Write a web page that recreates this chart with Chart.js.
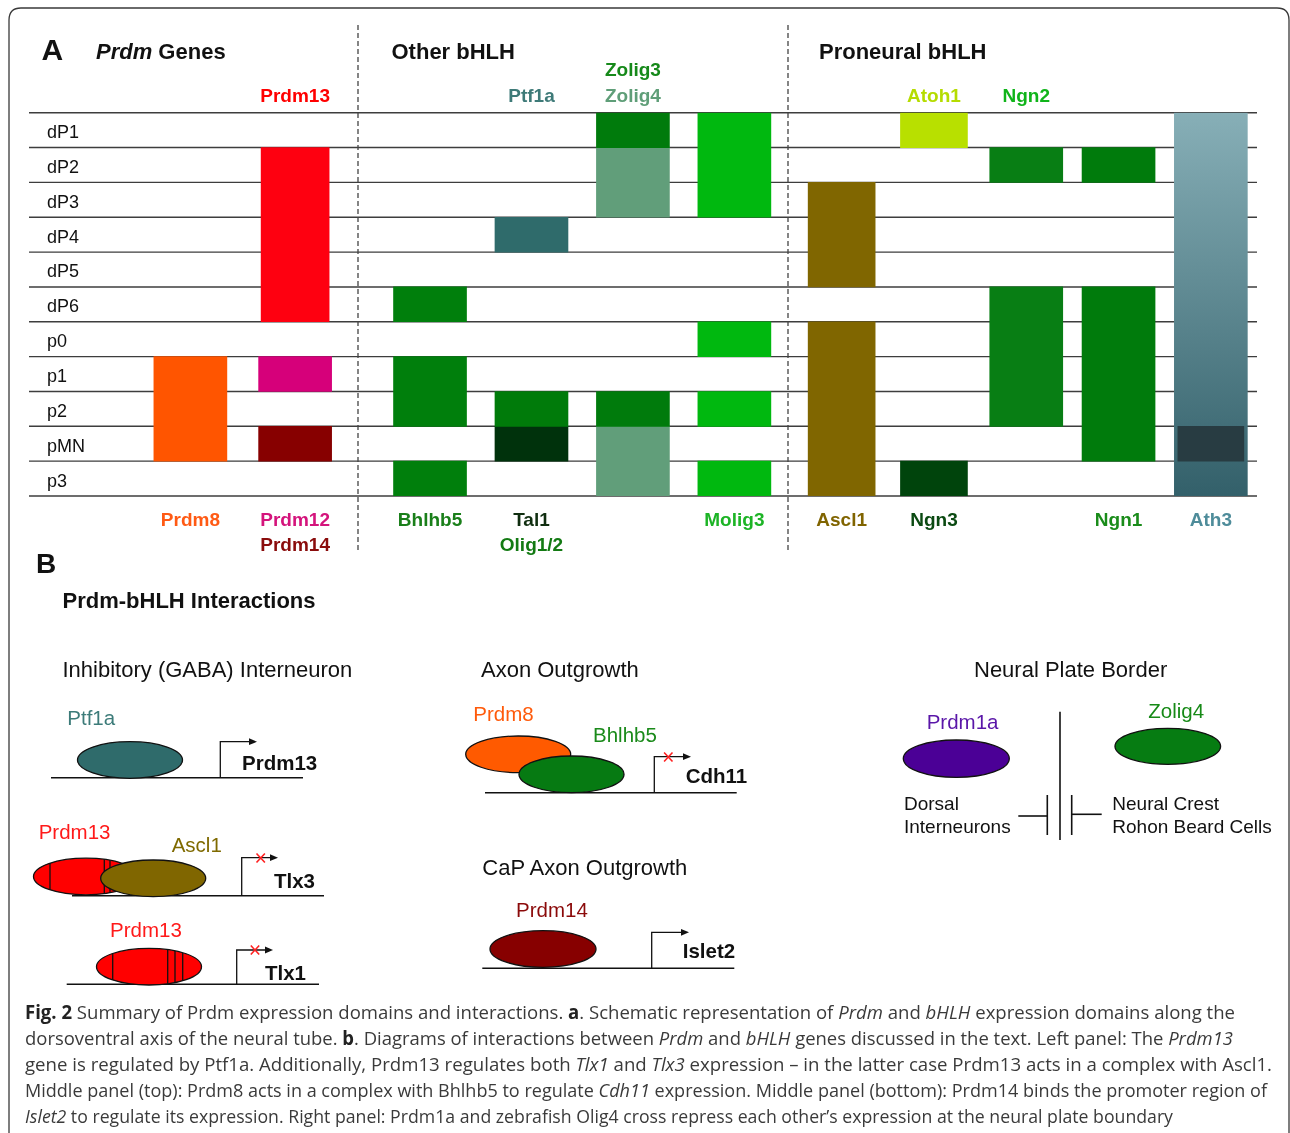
<!DOCTYPE html>
<html>
<head>
<meta charset="utf-8">
<title>Prdm and bHLH expression domains</title>
<script src="https://cdn.jsdelivr.net/npm/chart.js@4.4.1/dist/chart.umd.min.js"></script>
<style>
  html, body { margin: 0; padding: 0; background: #fff; }
  #page { position: relative; width: 1290px; height: 1133px; overflow: hidden; }
  #page canvas { position: absolute; top: 55px; }
  #prdm { left: 29px; }
  #other { left: 358px; }
  #proneural { left: 788px; }
  #art { position: absolute; left: 0; top: 0; }
  .cap { position: absolute; left: 25px; white-space: nowrap; font-family: "Liberation Sans Narrow", "Open Sans", sans-serif;
         font-size: 19px; line-height: 22px; color: #3a3a3a; transform-origin: 0 0; }
  .cap b { color: #222; }
</style>
</head>
<body>
<div id="page">
  <canvas id="prdm" width="329" height="510"></canvas>
  <canvas id="other" width="430" height="510"></canvas>
  <canvas id="proneural" width="469" height="510"></canvas>

  <svg id="art" width="1290" height="1133" font-family="Liberation Sans, Arial, sans-serif" fill="#111">
    <defs>
      <clipPath id="clipP13a"><ellipse cx="86" cy="876.5" rx="52.5" ry="18.3"/></clipPath>
      <clipPath id="clipP13b"><ellipse cx="149" cy="966.7" rx="52.5" ry="18.3"/></clipPath>
    </defs>
    <!-- frame and panel A separators -->
    <path d="M9 1133 V20 Q9 8 21 8 H1277 Q1289 8 1289 20 V1133" fill="none" stroke="#3a3a3a" stroke-width="1.3"/>
    <line x1="358" y1="25" x2="358" y2="552" stroke="#444" stroke-width="1.3" stroke-dasharray="5 3"/>
    <line x1="788" y1="25" x2="788" y2="552" stroke="#444" stroke-width="1.3" stroke-dasharray="5 3"/>

    <text x="41.5" y="60" font-size="30" font-weight="bold">A</text>
    <text x="96" y="59" font-size="22" font-weight="bold"><tspan font-style="italic">Prdm</tspan> Genes</text>
    <text x="391.5" y="59.3" font-size="22" font-weight="bold">Other bHLH</text>
    <text x="819" y="59.3" font-size="22" font-weight="bold">Proneural bHLH</text>

    <!-- panel B -->
    <text x="36" y="573" font-size="28" font-weight="bold">B</text>
    <text x="62.5" y="607.5" font-size="22" font-weight="bold">Prdm-bHLH Interactions</text>
    <g font-size="22">
      <text x="62.5" y="677">Inhibitory (GABA) Interneuron</text>
      <text x="481" y="677">Axon Outgrowth</text>
      <text x="974" y="677">Neural Plate Border</text>
      <text x="482.3" y="875">CaP Axon Outgrowth</text>
    </g>

    <g stroke="#111" stroke-width="1.3">
      <!-- Ptf1a -> Prdm13 -->
      <line x1="51" y1="777.7" x2="303" y2="777.7" stroke-width="1.6"/>
      <ellipse cx="130" cy="760" rx="52.5" ry="18.3" fill="#2f6b6b"/>
      <polyline points="220.3,777.7 220.3,741.7 250,741.7" fill="none"/>

      <!-- Prdm13 + Ascl1 -| Tlx3 -->
      <line x1="72" y1="895.7" x2="324" y2="895.7" stroke-width="1.6"/>
      <ellipse cx="86" cy="876.5" rx="52.5" ry="18.3" fill="#ff0000"/>
      <g clip-path="url(#clipP13a)">
        <line x1="50" y1="850" x2="50" y2="900"/>
        <line x1="104.3" y1="850" x2="104.3" y2="900"/>
        <line x1="110" y1="850" x2="110" y2="900"/>
      </g>
      <ellipse cx="153.2" cy="878.3" rx="52.5" ry="18.3" fill="#806600"/>
      <polyline points="241.7,895.7 241.7,857.7 271,857.7" fill="none"/>

      <!-- Prdm13 -| Tlx1 -->
      <line x1="66.7" y1="984.3" x2="319" y2="984.3" stroke-width="1.6"/>
      <ellipse cx="149" cy="966.7" rx="52.5" ry="18.3" fill="#ff0000"/>
      <g clip-path="url(#clipP13b)">
        <line x1="112.7" y1="940" x2="112.7" y2="990"/>
        <line x1="167.7" y1="940" x2="167.7" y2="990"/>
        <line x1="175" y1="940" x2="175" y2="990"/>
        <line x1="182.7" y1="940" x2="182.7" y2="990"/>
      </g>
      <polyline points="236.7,984.3 236.7,950 266,950" fill="none"/>

      <!-- Prdm8 + Bhlhb5 -| Cdh11 -->
      <line x1="485" y1="792.7" x2="736.7" y2="792.7" stroke-width="1.6"/>
      <ellipse cx="518.2" cy="754.3" rx="52.5" ry="18.3" fill="#ff5a00"/>
      <ellipse cx="571.5" cy="774.3" rx="52.5" ry="18.3" fill="#067a12"/>
      <polyline points="654.3,792.7 654.3,756.7 684,756.7" fill="none"/>

      <!-- Prdm14 -> Islet2 -->
      <line x1="482.3" y1="968.3" x2="734.3" y2="968.3" stroke-width="1.6"/>
      <ellipse cx="543" cy="949" rx="53" ry="18.3" fill="#870000"/>
      <polyline points="651.7,968.3 651.7,932.3 682,932.3" fill="none"/>

      <!-- Prdm1a | Zolig4 -->
      <ellipse cx="956.3" cy="758.7" rx="53" ry="18.7" fill="#4b0096"/>
      <ellipse cx="1167.8" cy="746.3" rx="52.8" ry="18" fill="#067c12"/>
      <line x1="1060" y1="711.7" x2="1060" y2="840" stroke-width="1.6"/>
      <line x1="1018.3" y1="816" x2="1047.3" y2="816" stroke-width="1.6"/>
      <line x1="1047.3" y1="795" x2="1047.3" y2="835" stroke-width="1.6"/>
      <line x1="1071.7" y1="795" x2="1071.7" y2="835" stroke-width="1.6"/>
      <line x1="1071.7" y1="814.3" x2="1101.7" y2="814.3" stroke-width="1.6"/>
    </g>
    <g fill="#111">
      <polygon points="257,741.7 249,738.3 249,745.1"/>
      <polygon points="278,857.7 270,854.3 270,861.1"/>
      <polygon points="273,950 265,946.6 265,953.4"/>
      <polygon points="691,756.7 683,753.3 683,760.1"/>
      <polygon points="689,932.3 681,928.9 681,935.7"/>
    </g>
    <g stroke="#ff2020" stroke-width="1.6">
      <path d="M256.5 853.5 L264.9 862.5 M264.9 853.5 L256.5 862.5"/>
      <path d="M250.8 945.5 L259.2 954.5 M259.2 945.5 L250.8 954.5"/>
      <path d="M664.1 752.5 L672.5 761.5 M672.5 752.5 L664.1 761.5"/>
    </g>

    <g font-size="20.5">
      <text x="67.3" y="725" fill="#3c7b79">Ptf1a</text>
      <text x="242" y="770" font-weight="bold">Prdm13</text>
      <text x="38.7" y="839.3" fill="#ff1a1a">Prdm13</text>
      <text x="171.7" y="852.3" fill="#7f6a00">Ascl1</text>
      <text x="274" y="887.7" font-weight="bold">Tlx3</text>
      <text x="110" y="937.3" fill="#ff1a1a">Prdm13</text>
      <text x="265" y="980" font-weight="bold">Tlx1</text>
      <text x="473.3" y="721" fill="#ff5a0a">Prdm8</text>
      <text x="593" y="741.7" fill="#1a8a1a">Bhlhb5</text>
      <text x="685.7" y="783.3" font-weight="bold">Cdh11</text>
      <text x="516" y="916.7" fill="#8b0a0a">Prdm14</text>
      <text x="682.7" y="957.7" font-weight="bold">Islet2</text>
      <text x="926.7" y="729" fill="#5a16a8">Prdm1a</text>
      <text x="1148.3" y="718.3" fill="#178a17">Zolig4</text>
    </g>
    <g font-size="19">
      <text x="904" y="810">Dorsal</text>
      <text x="904" y="832.7">Interneurons</text>
      <text x="1112.3" y="810">Neural Crest</text>
      <text x="1112.3" y="832.7">Rohon Beard Cells</text>
    </g>
  </svg>

  <div class="cap" style="top:1001px" data-w="1210"><b>Fig. 2</b> Summary of Prdm expression domains and interactions. <b>a</b>. Schematic representation of <i>Prdm</i> and <i>bHLH</i> expression domains along the</div>
  <div class="cap" style="top:1027px" data-w="1208">dorsoventral axis of the neural tube. <b>b</b>. Diagrams of interactions between <i>Prdm</i> and <i>bHLH</i> genes discussed in the text. Left panel: The <i>Prdm13</i></div>
  <div class="cap" style="top:1053px" data-w="1247">gene is regulated by Ptf1a. Additionally, Prdm13 regulates both <i>Tlx1</i> and <i>Tlx3</i> expression – in the latter case Prdm13 acts in a complex with Ascl1.</div>
  <div class="cap" style="top:1079px" data-w="1242">Middle panel (top): Prdm8 acts in a complex with Bhlhb5 to regulate <i>Cdh11</i> expression. Middle panel (bottom): Prdm14 binds the promoter region of</div>
  <div class="cap" style="top:1105px" data-w="1148"><i>Islet2</i> to regulate its expression. Right panel: Prdm1a and zebrafish Olig4 cross repress each other’s expression at the neural plate boundary</div>
</div>

<script>
// dorsoventral progenitor domains, top to bottom
const ROWS = ['dP1', 'dP2', 'dP3', 'dP4', 'dP5', 'dP6', 'p0', 'p1', 'p2', 'pMN', 'p3'];

const PRDM_COLUMNS = ['Prdm8', 'Prdm13'];
const OTHER_COLUMNS = ['Bhlhb5', 'Tal1', 'Zolig', 'Molig3'];
const PRONEURAL_COLUMNS = ['Ascl1', 'Atoh1', 'Ngn2', 'Ngn1', 'Ath3'];

// names written above (read downward) and below each column
const PRDM_TOP = [[], ['Prdm13']];
const PRDM_BOTTOM = [['Prdm8'], ['Prdm12', 'Prdm14']];
const OTHER_TOP = [[], ['Ptf1a'], ['Zolig3', 'Zolig4'], []];
const OTHER_BOTTOM = [['Bhlhb5'], ['Tal1', 'Olig1/2'], [], ['Molig3']];
const PRONEURAL_TOP = [[], ['Atoh1'], ['Ngn2'], [], []];
const PRONEURAL_BOTTOM = [['Ascl1'], ['Ngn3'], [], ['Ngn1'], ['Ath3']];

// expression domains: [column, gene, first domain, last domain]
const PRDM_DOMAINS = [
  ['Prdm8', 'Prdm8', 'p1', 'pMN'],
  ['Prdm13', 'Prdm13', 'dP2', 'dP6'],
  ['Prdm13', 'Prdm12', 'p1', 'p1'],
  ['Prdm13', 'Prdm14', 'pMN', 'pMN'],
];
const OTHER_DOMAINS = [
  ['Bhlhb5', 'Bhlhb5', 'dP6', 'dP6'],
  ['Bhlhb5', 'Bhlhb5', 'p1', 'p2'],
  ['Bhlhb5', 'Bhlhb5', 'p3', 'p3'],
  ['Tal1', 'Ptf1a', 'dP4', 'dP4'],
  ['Tal1', 'Olig1/2', 'p2', 'p2'],
  ['Tal1', 'Tal1', 'pMN', 'pMN'],
  ['Zolig', 'Zolig3', 'dP1', 'dP1'],
  ['Zolig', 'Zolig4', 'dP2', 'dP3'],
  ['Zolig', 'Zolig3', 'p2', 'p2'],
  ['Zolig', 'Zolig4', 'pMN', 'p3'],
  ['Molig3', 'Molig3', 'dP1', 'dP3'],
  ['Molig3', 'Molig3', 'p0', 'p0'],
  ['Molig3', 'Molig3', 'p2', 'p2'],
  ['Molig3', 'Molig3', 'p3', 'p3'],
];
const PRONEURAL_DOMAINS = [
  ['Ath3', 'Ath3 pMN', 'pMN', 'pMN'],
  ['Ascl1', 'Ascl1', 'dP3', 'dP5'],
  ['Ascl1', 'Ascl1', 'p0', 'p3'],
  ['Atoh1', 'Atoh1', 'dP1', 'dP1'],
  ['Atoh1', 'Ngn3', 'p3', 'p3'],
  ['Ngn2', 'Ngn2', 'dP2', 'dP2'],
  ['Ngn2', 'Ngn2', 'dP6', 'p2'],
  ['Ngn1', 'Ngn1', 'dP2', 'dP2'],
  ['Ngn1', 'Ngn1', 'dP6', 'pMN'],
  ['Ath3', 'Ath3', 'dP1', 'p3'],
];

const BAR_COLORS = {
  Prdm8: '#ff5500', Prdm13: '#fe0010', Prdm12: '#d6007a', Prdm14: '#870000',
  Bhlhb5: '#007f0c', Ptf1a: '#2f6b6b', 'Olig1/2': '#007b0a', Tal1: '#00320c',
  Zolig3: '#007b0c', Zolig4: '#619e7a', Molig3: '#00b80f',
  Ascl1: '#806600', Atoh1: '#b8e000', Ngn3: '#00440c', Ngn2: '#087e14', Ngn1: '#007b0c',
  'Ath3 pMN': '#283c42',
};
const LABEL_COLORS = {
  Prdm13: '#ff0000', Prdm8: '#ff5a14', Prdm12: '#d4147c', Prdm14: '#8a0c0c',
  Ptf1a: '#3e7a78', Zolig3: '#16891a', Zolig4: '#5f9e78', Bhlhb5: '#1a7f1a',
  Tal1: '#102e10', 'Olig1/2': '#137a13', Molig3: '#1db426',
  Atoh1: '#b5dc00', Ngn2: '#10b41a', Ascl1: '#806400', Ngn3: '#0b4a12', Ngn1: '#1a8c1a', Ath3: '#4e8c9a',
};
const BAR_WIDTH = { Prdm13: 68, Ascl1: 67, Atoh1: 67, Ngn3: 67, 'Ath3 pMN': 66 };

const FONT = '"Liberation Sans", Arial, sans-serif';

function ath3Fill(context) {
  const area = context.chart.chartArea;
  if (!area) return '#5d8791';
  const g = context.chart.ctx.createLinearGradient(0, area.top, 0, area.bottom);
  g.addColorStop(0, '#87afb7');
  g.addColorStop(1, '#33606a');
  return g;
}

function domainDataset(columns, domain) {
  const [column, gene, first, last] = domain;
  const start = ROWS.indexOf(first);
  const end = ROWS.indexOf(last) + 1;
  return {
    label: gene,
    data: columns.map(c => (c === column ? [start, end] : null)),
    backgroundColor: gene === 'Ath3' ? ath3Fill : BAR_COLORS[gene],
    barThickness: BAR_WIDTH[gene] || 73,
    grouped: false,
    borderWidth: 0,
  };
}

// horizontal domain boundaries, run across the whole canvas
const domainLines = {
  id: 'domainLines',
  beforeDatasetsDraw(chart) {
    const { ctx, width } = chart;
    const y = chart.scales.y;
    ctx.save();
    ctx.strokeStyle = '#3d3d3d';
    ctx.lineWidth = 1.4;
    for (let i = 0; i <= ROWS.length; i++) {
      const py = y.getPixelForValue(i);
      ctx.beginPath();
      ctx.moveTo(0, py);
      ctx.lineTo(width, py);
      ctx.stroke();
    }
    ctx.restore();
  }
};

// coloured gene names above and below the columns
const geneLabels = {
  id: 'geneLabels',
  afterDatasetsDraw(chart, args, opts) {
    const { ctx, chartArea } = chart;
    const x = chart.scales.x;
    ctx.save();
    ctx.font = 'bold 19px ' + FONT;
    ctx.textAlign = 'center';
    ctx.textBaseline = 'alphabetic';
    opts.top.forEach((names, i) => {
      const px = x.getPixelForValue(i);
      names.forEach((name, k) => {
        ctx.fillStyle = LABEL_COLORS[name];
        ctx.fillText(name, px, chartArea.top - 11 - 26 * (names.length - 1 - k));
      });
    });
    opts.bottom.forEach((names, i) => {
      const px = x.getPixelForValue(i);
      names.forEach((name, k) => {
        ctx.fillStyle = LABEL_COLORS[name];
        ctx.fillText(name, px, chartArea.bottom + 30 + 25 * k);
      });
    });
    ctx.restore();
  }
};

function makeChart(id, columns, domains, top, bottom, padLeft, padRight, withRows) {
  const scales = {
    x: { type: 'category', display: false, offset: true },
    y: { type: 'linear', min: 0, max: ROWS.length, reverse: true, display: false },
  };
  if (withRows) {
    scales.rows = {
      type: 'category',
      labels: ROWS,
      position: 'left',
      offset: true,
      grid: { display: false },
      border: { display: false },
      ticks: {
        crossAlign: 'far',
        autoSkip: false,
        padding: 0,
        labelOffset: 3,
        color: '#111',
        font: { size: 18, family: FONT },
      },
      afterFit(scale) { scale.width = 91; },
    };
  }
  return new Chart(document.getElementById(id), {
    type: 'bar',
    data: {
      labels: columns,
      datasets: domains.map(d => domainDataset(columns, d)),
    },
    options: {
      responsive: false,
      animation: false,
      layout: { padding: { left: padLeft, right: padRight, top: 57.7, bottom: 69 } },
      plugins: {
        legend: { display: false },
        tooltip: { enabled: false },
        geneLabels: { top: top, bottom: bottom },
      },
      scales: scales,
    },
    plugins: [domainLines, geneLabels],
  });
}

makeChart('prdm', PRDM_COLUMNS, PRDM_DOMAINS, PRDM_TOP, PRDM_BOTTOM, 18, 10.5, true);
makeChart('other', OTHER_COLUMNS, OTHER_DOMAINS, OTHER_TOP, OTHER_BOTTOM, 21.3, 2.9, false);
makeChart('proneural', PRONEURAL_COLUMNS, PRONEURAL_DOMAINS, PRONEURAL_TOP, PRONEURAL_BOTTOM, 7.5, 0, false);

// caption lines are set in a narrow face; fit each to its printed width
document.querySelectorAll('.cap').forEach(el => {
  const w = el.getBoundingClientRect().width;
  el.style.transform = 'scaleX(' + (el.dataset.w / w) + ')';
});
</script>
</body>
</html>
